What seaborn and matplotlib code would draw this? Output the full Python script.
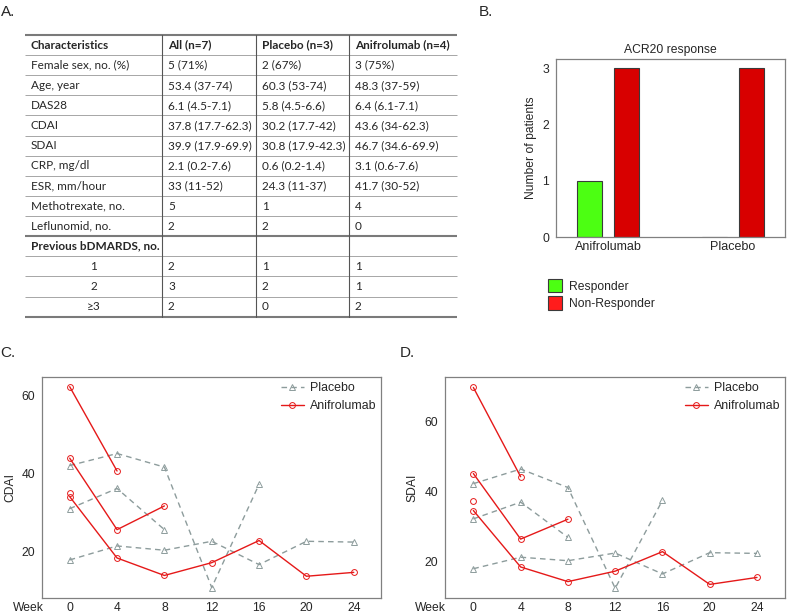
import numpy as np
import pandas as pd
import matplotlib
matplotlib.use('Agg')
import matplotlib.pyplot as plt
import seaborn as sns
from matplotlib.transforms import offset_copy

# ─────────────────────────────────────────
# Data
# ─────────────────────────────────────────
# Panel A: baseline characteristics table
table_header = ['Characteristics', 'All (n=7)', 'Placebo (n=3)', 'Anifrolumab (n=4)']
row_labels = ['Female sex, no. (%)', 'Age, year', 'DAS28', 'CDAI', 'SDAI',
              'CRP, mg/dl', 'ESR, mm/hour', 'Methotrexate, no.', 'Leflunomid, no.',
              'Previous bDMARDS, no.', '1', '2', '≥3']
all_vals = ['5 (71%)', '53.4 (37-74)', '6.1 (4.5-7.1)', '37.8 (17.7-62.3)',
            '39.9 (17.9-69.9)', '2.1 (0.2-7.6)', '33 (11-52)', '5', '2', '', '2', '3', '2']
placebo_vals = ['2 (67%)', '60.3 (53-74)', '5.8 (4.5-6.6)', '30.2 (17.7-42)',
                '30.8 (17.9-42.3)', '0.6 (0.2-1.4)', '24.3 (11-37)', '1', '2', '', '1', '2', '0']
anif_vals = ['3 (75%)', '48.3 (37-59)', '6.4 (6.1-7.1)', '43.6 (34-62.3)',
             '46.7 (34.6-69.9)', '3.1 (0.6-7.6)', '41.7 (30-52)', '4', '0', '', '1', '1', '2']

# Panel B: ACR20 response
arms = ['Anifrolumab', 'Placebo']
responders = [1, 0]
non_responders = [3, 3]

# Panels C/D: individual courses (weeks 0..24, truncated lists = dropped out)
weeks = [0, 4, 8, 12, 16, 20, 24]
groups = ['Placebo', 'Anifrolumab']

cdai_pbo_1 = [42.0, 45.1, 41.6, 10.6, 37.2]
cdai_pbo_2 = [30.9, 36.1, 25.5]
cdai_pbo_3 = [17.7, 21.3, 20.2, 22.5, 16.5, 22.5, 22.3]
cdai_ani_1 = [62.3, 40.6]
cdai_ani_2 = [43.9, 25.5, 31.6]
cdai_ani_3 = [34.0, 18.2, 13.7, 17.0, 22.7, 13.5, 14.5]
cdai_ani_4 = [35.0]

sdai_pbo_1 = [42.3, 46.5, 41.2, 12.3, 37.5]
sdai_pbo_2 = [32.2, 37.0, 26.9]
sdai_pbo_3 = [17.9, 21.2, 20.2, 22.4, 16.4, 22.5, 22.3]
sdai_ani_1 = [69.9, 44.3]
sdai_ani_2 = [45.2, 26.4, 32.1]
sdai_ani_3 = [34.6, 18.4, 14.2, 17.2, 22.8, 13.4, 15.4]
sdai_ani_4 = [37.2]


def to_long(series):
    rows = []
    for (group, pid), vals in series.items():
        for w, v in zip(weeks, vals):
            rows.append({'group': group, 'patient': pid, 'week': w, 'value': v})
    return pd.DataFrame(rows)


cdai_df = to_long({('Placebo', 'p1'): cdai_pbo_1, ('Placebo', 'p2'): cdai_pbo_2,
                   ('Placebo', 'p3'): cdai_pbo_3, ('Anifrolumab', 'a1'): cdai_ani_1,
                   ('Anifrolumab', 'a2'): cdai_ani_2, ('Anifrolumab', 'a3'): cdai_ani_3,
                   ('Anifrolumab', 'a4'): cdai_ani_4})
sdai_df = to_long({('Placebo', 'p1'): sdai_pbo_1, ('Placebo', 'p2'): sdai_pbo_2,
                   ('Placebo', 'p3'): sdai_pbo_3, ('Anifrolumab', 'a1'): sdai_ani_1,
                   ('Anifrolumab', 'a2'): sdai_ani_2, ('Anifrolumab', 'a3'): sdai_ani_3,
                   ('Anifrolumab', 'a4'): sdai_ani_4})

acr_df = pd.DataFrame({
    'arm': arms * 2,
    'response': ['Responder'] * 2 + ['Non-Responder'] * 2,
    'count': responders + non_responders,
})

# ─────────────────────────────────────────
# Style
# ─────────────────────────────────────────
sns.set_style('white')
plt.rcParams['font.family'] = ['Liberation Sans', 'DejaVu Sans']
FRAME = '#808080'
line_colors = {'Placebo': '#8d9c9c', 'Anifrolumab': '#e51919'}
marker_map = {'Placebo': '^', 'Anifrolumab': 'o'}
dash_map = {'Placebo': (4, 3), 'Anifrolumab': ''}
bar_colors = {'Responder': '#4cff12', 'Non-Responder': '#d80000'}

W, H = 788, 616
fig = plt.figure(figsize=(W / 100, H / 100), dpi=100)


def px_axes(left, top, right, bottom):
    return fig.add_axes([left / W, 1 - bottom / H, (right - left) / W, (bottom - top) / H])


def style_frame(ax):
    for s in ax.spines.values():
        s.set_visible(True)
        s.set_color(FRAME)
        s.set_linewidth(0.9)
    ax.tick_params(axis='y', length=3, width=0.8, color=FRAME, pad=2, labelsize=8.7)
    ax.tick_params(axis='x', length=0, pad=3, labelsize=8.7)


# ─────────────────────────────────────────
# Panel A: table (drawn in pixel coordinates)
# ─────────────────────────────────────────
bg = fig.add_axes([0, 0, 1, 1])
bg.set_xlim(0, W)
bg.set_ylim(H, 0)
bg.axis('off')

col_x = [25, 162, 256, 349, 457]
top_y = 35
row_h = 20.12
n_rows = len(row_labels) + 1
tfont = ['Lato', 'DejaVu Sans']
tsize = 8.5

for i in range(n_rows + 1):
    y = top_y + i * row_h
    thick = i in (0, 10, n_rows)
    bg.plot([col_x[0], col_x[-1]], [y, y], color='#7a7a7a' if thick else '#a6a6a6',
            lw=1.5 if thick else 0.7, solid_capstyle='butt')
for x in col_x[1:-1]:
    bg.plot([x, x], [top_y, top_y + n_rows * row_h], color='#555555', lw=0.8)

for j, txt in enumerate(table_header):
    bg.text(col_x[j] + 6, top_y + 0.5 * row_h, txt, va='center', ha='left',
            fontsize=tsize, fontweight='bold', family=tfont)
for i, lab in enumerate(row_labels):
    yc = top_y + (i + 1.5) * row_h
    if lab in ('1', '2', '≥3'):
        bg.text((col_x[0] + col_x[1]) / 2, yc, lab, va='center', ha='center',
                fontsize=tsize, family=tfont)
    else:
        bg.text(col_x[0] + 6, yc, lab, va='center', ha='left', fontsize=tsize, family=tfont,
                fontweight='bold' if lab.startswith('Previous') else 'normal')
    for j, vals in enumerate([all_vals, placebo_vals, anif_vals]):
        bg.text(col_x[j + 1] + 6, yc, vals[i], va='center', ha='left',
                fontsize=tsize, family=tfont)

for lab, (x, y) in {'A.': (1, 16), 'B.': (479, 16), 'C.': (0, 357), 'D.': (400, 357)}.items():
    bg.text(x, y, lab, fontsize=11, ha='left', va='baseline')

# ─────────────────────────────────────────
# Panel B: ACR20 bar chart
# ─────────────────────────────────────────
axb = px_axes(556, 59, 785, 237)
sns.barplot(data=acr_df, x='arm', y='count', hue='response', order=arms,
            hue_order=['Responder', 'Non-Responder'], palette=bar_colors, saturation=1,
            width=0.6, gap=0.33, edgecolor='#3a3a3a', linewidth=0.8, ax=axb)
axb.set_xlim(-0.42, 1.42)
axb.set_ylim(0, 3.16)
axb.set_yticks([0, 1, 2, 3])
axb.set_xlabel('')
axb.set_ylabel('Number of patients', fontsize=8.7)
axb.set_title('ACR20 response', fontsize=8.7, pad=4)
style_frame(axb)
axb.tick_params(axis='x', labelsize=9)
leg = axb.get_legend()
handles = leg.legend_handles
labels = [t.get_text() for t in leg.texts]
handles[1].set_facecolor('#ff1c1c')
leg.remove()
axb.legend(handles, labels, loc='upper left', bbox_to_anchor=(-0.035, -0.235),
           frameon=False, fontsize=8.7, borderpad=0, borderaxespad=0,
           handlelength=1.2, handleheight=1.35, handletextpad=0.5, labelspacing=0.3)

# ─────────────────────────────────────────
# Panels C/D: CDAI and SDAI courses
# ─────────────────────────────────────────
def draw_course(ax, df, ylabel, xlim, ylim, week_x):
    sns.lineplot(data=df, x='week', y='value', hue='group', style='group',
                 units='patient', estimator=None, hue_order=groups, style_order=groups,
                 palette=line_colors, markers=marker_map, dashes=dash_map,
                 lw=1.0, ms=4.2, ax=ax)
    for ln in ax.lines:
        c = ln.get_color()
        ln.set_markerfacecolor('none')
        ln.set_markeredgecolor(c)
        ln.set_markeredgewidth(0.7)
    lg = ax.get_legend()
    hs = lg.legend_handles
    ls = [t.get_text() for t in lg.texts]
    for h in hs:
        h.set_markerfacecolor('none')
        h.set_markeredgecolor(h.get_color())
        h.set_markeredgewidth(0.7)
    lg.remove()
    ax.legend(hs, ls, loc='upper right', bbox_to_anchor=(1.0, 1.0), frameon=False,
              fontsize=8.9, borderpad=0.3, borderaxespad=0.1, handlelength=1.9,
              handletextpad=0.45, labelspacing=0.5)
    ax.set_xlim(*xlim)
    ax.set_ylim(*ylim)
    ax.set_xticks(weeks)
    ax.set_yticks([20, 40, 60])
    ax.set_xlabel('')
    ax.set_ylabel(ylabel, fontsize=8.7)
    style_frame(ax)
    tr = offset_copy(ax.transAxes, fig=fig, y=-3, units='points')
    ax.text(week_x, 0, 'Week', transform=tr, ha='center', va='top', fontsize=8.7)


axc = px_axes(42, 377, 381, 598)
draw_course(axc, cdai_df, 'CDAI', (-2.34, 26.3), (7.9, 64.8), -0.041)

axd = px_axes(445, 377, 785, 598)
draw_course(axd, sdai_df, 'SDAI', (-2.4, 26.37), (9.5, 72.9), -0.042)

plt.savefig('out.png', dpi=100)
